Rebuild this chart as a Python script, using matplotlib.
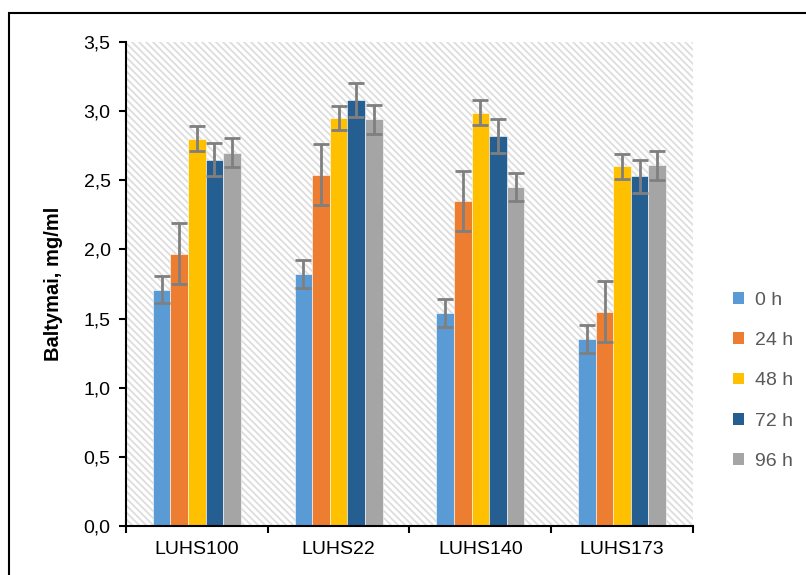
import numpy as np
import matplotlib
matplotlib.use("Agg")
import matplotlib.pyplot as plt
from matplotlib.patches import Rectangle, Patch
from matplotlib.lines import Line2D

plt.rcParams['font.family'] = ['Liberation Sans', 'DejaVu Sans']

# Duomenys
veisles = ["LUHS100", "LUHS22", "LUHS140", "LUHS173"]
laikai = ["0 h", "24 h", "48 h", "72 h", "96 h"]
spalvos = ["#5B9BD5", "#ED7D31", "#FFC000", "#255E91", "#A5A5A5"]

v_0h = [1.71, 1.82, 1.54, 1.35]
v_24h = [1.97, 2.54, 2.35, 1.55]
v_48h = [2.80, 2.95, 2.99, 2.60]
v_72h = [2.65, 3.08, 2.82, 2.53]
v_96h = [2.70, 2.94, 2.45, 2.61]

e_0h = [0.10, 0.10, 0.10, 0.10]
e_24h = [0.22, 0.22, 0.22, 0.22]
e_48h = [0.09, 0.09, 0.09, 0.09]
e_72h = [0.12, 0.12, 0.12, 0.12]
e_96h = [0.105, 0.105, 0.10, 0.105]

reiksmes = [v_0h, v_24h, v_48h, v_72h, v_96h]
paklaidos = [e_0h, e_24h, e_48h, e_72h, e_96h]

fig = plt.figure(figsize=(8.06, 5.75), dpi=100)
ax = fig.add_axes([0.1563, 0.0852, 0.7035, 0.8418])

# Brūkšniuotas fonas (įstrižos linijos)
W, H = 567.0, 484.0
step = 7.0
c = 0.0
while c < W + H:
    ax.add_line(Line2D([(c - H) / W, c / W], [1, 0], transform=ax.transAxes,
                       color="#DDDDDD", lw=1.3, zorder=0, clip_on=True))
    c += step

x = np.arange(len(veisles))
plotis = 0.124
for i, (vals, errs) in enumerate(zip(reiksmes, paklaidos)):
    pos = x + (i - 2) * plotis
    ax.bar(pos, vals, width=plotis, color=spalvos[i], edgecolor="white",
           linewidth=0.4, zorder=2, label=laikai[i])
    ax.errorbar(pos, vals, yerr=errs, fmt="none", ecolor="#7F7F7F",
                elinewidth=2, capsize=6, capthick=2, zorder=3)

ax.set_xlim(-0.5, 3.5)
ax.set_ylim(0, 3.5)
ax.set_yticks(np.arange(0, 3.51, 0.5))
ax.set_yticklabels([f"{v:.1f}".replace(".", ",") for v in np.arange(0, 3.51, 0.5)])
ax.set_xticks(x)
ax.set_xticklabels(veisles)
ax.set_xticks(np.arange(-0.5, 3.6, 1), minor=True)
ax.tick_params(axis="x", which="major", length=0, pad=11, labelsize=14)
ax.tick_params(axis="x", which="minor", length=5, width=1.5, direction="out")
ax.tick_params(axis="y", length=5, width=1.5, labelsize=14, pad=6)

for s in ["top", "right"]:
    ax.spines[s].set_visible(False)
for s in ["left", "bottom"]:
    ax.spines[s].set_linewidth(1.5)

ax.set_ylabel("Baltymai, mg/ml", fontsize=14.5, fontweight="bold", labelpad=15)

rankenos = [Patch(facecolor=spalvos[i], label=laikai[i]) for i in range(5)]
leg = ax.legend(handles=rankenos, loc="center left", bbox_to_anchor=(1.04, 0.30),
                frameon=False, fontsize=14, labelspacing=1.2,
                handlelength=0.55, handleheight=0.55, handletextpad=0.55)
for t in leg.get_texts():
    t.set_color("#595959")

# Rėmelis aplink paveikslą
fig.add_artist(Rectangle((9 / 806, -0.1), 1.2, (575 - 13) / 575 + 0.1,
                         transform=fig.transFigure, fill=False,
                         edgecolor="black", linewidth=1.5))

fig.savefig("out.png", dpi=100)
